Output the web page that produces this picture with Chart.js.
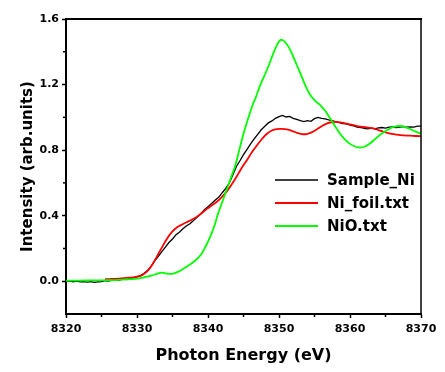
<!DOCTYPE html>
<html><head><meta charset="utf-8">
<script src="https://cdn.jsdelivr.net/npm/chart.js@4.4.1/dist/chart.umd.min.js"></script>
<style>html,body{margin:0;padding:0;background:#fff}</style>
</head><body>
<canvas id="c" width="445" height="372"></canvas>
<script>
const seriesNames = ['Sample_Ni', 'Ni_foil.txt', 'NiO.txt'];
const seriesColors = ['#000000', '#ff0000', '#00ff00'];

const sampleEnergy = [8320,8320.5,8321,8321.5,8322,8322.5,8323,8323.5,8324,8324.5,8325,8325.5,8326,8326.5,8327,8327.5,8328,8328.5,8329,8329.5,8330,8330.5,8331,8331.5,8332,8332.5,8333,8333.5,8334,8334.5,8335,8335.5,8336,8336.5,8337,8337.5,8338,8338.5,8339,8339.5,8340,8340.5,8341,8341.5,8342,8342.5,8343,8343.5,8344,8344.5,8345,8345.5,8346,8346.5,8347,8347.5,8348,8348.5,8349,8349.5,8350,8350.5,8351,8351.5,8352,8352.5,8353,8353.5,8354,8354.5,8355,8355.5,8356,8356.5,8357,8357.5,8358,8358.5,8359,8359.5,8360,8360.5,8361,8361.5,8362,8362.5,8363,8363.5,8364,8364.5,8365,8365.5,8366,8366.5,8367,8367.5,8368,8368.5,8369,8369.5,8370];
const sampleIntensity = [0.000,0.002,-0.003,0.001,-0.004,-0.002,-0.006,-0.003,-0.007,-0.004,-0.002,0.004,0.001,0.008,0.012,0.006,0.014,0.010,0.016,0.022,0.026,0.034,0.048,0.066,0.092,0.124,0.152,0.180,0.208,0.236,0.258,0.284,0.300,0.322,0.338,0.352,0.372,0.392,0.412,0.436,0.455,0.474,0.494,0.512,0.540,0.566,0.600,0.648,0.700,0.735,0.772,0.805,0.838,0.868,0.896,0.924,0.946,0.966,0.978,0.994,1.004,1.012,1.002,1.006,0.994,0.988,0.980,0.974,0.980,0.976,0.992,1.000,0.994,0.990,0.984,0.980,0.972,0.968,0.962,0.960,0.952,0.948,0.940,0.938,0.932,0.930,0.934,0.930,0.936,0.938,0.934,0.940,0.942,0.938,0.940,0.944,0.940,0.942,0.940,0.946,0.946];

const foilEnergy = [8325.5,8326.5,8327.5,8328.5,8329.5,8330.5,8331,8331.6,8332.2,8332.8,8333.5,8334.2,8334.9,8335.6,8336.3,8337,8337.7,8338.4,8339.1,8339.8,8340.5,8341.2,8341.9,8342.6,8343.3,8344,8344.7,8345.5,8346.2,8346.9,8347.6,8348.3,8349,8349.7,8350.4,8351.1,8351.8,8352.5,8353.2,8353.9,8354.6,8355.3,8356,8356.7,8357.4,8358.1,8358.8,8359.5,8360.2,8361,8361.8,8362.6,8363.3,8364,8364.7,8365.4,8366.1,8366.8,8367.5,8368.5,8369.5,8370];
const foilIntensity = [0.012,0.014,0.016,0.020,0.024,0.032,0.045,0.068,0.105,0.150,0.205,0.258,0.300,0.328,0.345,0.360,0.375,0.392,0.415,0.440,0.462,0.483,0.512,0.545,0.588,0.636,0.688,0.740,0.788,0.830,0.868,0.900,0.920,0.928,0.929,0.926,0.918,0.906,0.898,0.898,0.908,0.926,0.946,0.962,0.970,0.972,0.968,0.962,0.955,0.947,0.942,0.937,0.932,0.922,0.912,0.904,0.898,0.893,0.890,0.888,0.886,0.886];

const nioEnergy = [8320,8322,8324,8326,8328,8330,8331,8332,8333,8333.5,8334.2,8335,8335.8,8336.5,8337.2,8337.9,8338.5,8339.1,8339.7,8340.3,8340.9,8341.4,8342,8342.6,8343.2,8343.8,8344.4,8345,8345.6,8346.2,8346.8,8347.3,8347.9,8348.5,8349.1,8349.7,8350.1,8350.5,8351,8351.6,8352.3,8353,8353.7,8354.4,8355.1,8355.8,8356.5,8357.2,8357.9,8358.6,8359.3,8360,8360.7,8361.4,8362.1,8362.8,8363.5,8364.2,8364.9,8365.6,8366.3,8367,8367.7,8368.5,8369.2,8370];
const nioIntensity = [0.004,0.004,0.005,0.006,0.010,0.016,0.024,0.034,0.048,0.052,0.046,0.045,0.058,0.076,0.095,0.116,0.138,0.168,0.215,0.270,0.338,0.410,0.482,0.555,0.628,0.700,0.800,0.900,0.985,1.065,1.130,1.190,1.250,1.310,1.380,1.440,1.468,1.472,1.452,1.410,1.340,1.270,1.195,1.136,1.100,1.075,1.040,0.994,0.946,0.900,0.864,0.838,0.822,0.816,0.822,0.840,0.866,0.892,0.914,0.932,0.943,0.947,0.942,0.928,0.914,0.900];

const xTicks = [8320, 8330, 8340, 8350, 8360, 8370];
const yTicks = [0.0, 0.4, 0.8, 1.2, 1.6];
const xMinorTicks = [8325, 8335, 8345, 8355, 8365];
const yMinorTicks = [0.2, 0.6, 1.0, 1.4];

const toPts = (xs, ys) => xs.map((v, i) => ({x: v, y: ys[i]}));

Chart.defaults.font.family = '"DejaVu Sans", sans-serif';
Chart.defaults.font.weight = 'bold';
Chart.defaults.color = '#000';

const extras = {
  id: 'extras',
  afterDatasetsDraw(chart) {
    const {ctx, chartArea: a} = chart;
    ctx.save();
    ctx.beginPath();
    ctx.rect(a.left, a.top, a.right - a.left, a.bottom - a.top);
    ctx.clip();
    const rows = [180, 203, 226];
    ctx.font = 'bold 15px "DejaVu Sans"';
    ctx.textBaseline = 'middle';
    ctx.textAlign = 'left';
    seriesNames.forEach((n, i) => {
      ctx.strokeStyle = seriesColors[i];
      ctx.lineWidth = i === 0 ? 1.5 : 2;
      ctx.beginPath();
      ctx.moveTo(275, rows[i]);
      ctx.lineTo(318, rows[i]);
      ctx.stroke();
      ctx.fillStyle = '#000';
      ctx.fillText(n, 327, rows[i] + 1);
    });
    ctx.restore();
  },
  afterDraw(chart) {
    const {ctx, chartArea: a, scales: {x, y}} = chart;
    ctx.save();
    ctx.strokeStyle = '#000';
    ctx.lineWidth = 2;
    ctx.beginPath();
    ctx.moveTo(a.left - 1, a.top);
    ctx.lineTo(a.right + 1, a.top);
    ctx.stroke();
    ctx.lineWidth = 1.5;
    ctx.beginPath();
    ctx.moveTo(a.right, a.top);
    ctx.lineTo(a.right, a.bottom);
    ctx.stroke();
    ctx.lineWidth = 1.5;
    xMinorTicks.forEach(v => {
      const px = x.getPixelForValue(v);
      ctx.beginPath();
      ctx.moveTo(px, a.bottom);
      ctx.lineTo(px, a.bottom + 3);
      ctx.stroke();
    });
    yMinorTicks.forEach(v => {
      const py = y.getPixelForValue(v);
      ctx.beginPath();
      ctx.moveTo(a.left, py);
      ctx.lineTo(a.left - 3, py);
      ctx.stroke();
    });
    ctx.restore();
  }
};

new Chart(document.getElementById('c'), {
  type: 'line',
  data: {
    datasets: [
      {label: seriesNames[0], data: toPts(sampleEnergy, sampleIntensity), borderColor: seriesColors[0], borderWidth: 1.3, tension: 0, order: 3},
      {label: seriesNames[1], data: toPts(foilEnergy, foilIntensity), borderColor: seriesColors[1], borderWidth: 1.8, tension: 0.35, order: 2},
      {label: seriesNames[2], data: toPts(nioEnergy, nioIntensity), borderColor: seriesColors[2], borderWidth: 1.8, tension: 0.35, order: 1}
    ]
  },
  options: {
    responsive: false,
    animation: false,
    parsing: true,
    elements: {point: {radius: 0}},
    layout: {padding: {top: 19, right: 24, left: 0, bottom: 0}},
    plugins: {legend: {display: false}, tooltip: {enabled: false}},
    scales: {
      x: {
        type: 'linear', min: 8320, max: 8370,
        afterBuildTicks: s => { s.ticks = xTicks.map(v => ({value: v})); },
        afterFit: s => { s.height = 58; },
        ticks: {callback: v => String(v), font: {size: 11, weight: 'bold'}, color: '#000', padding: 5, maxRotation: 0, autoSkip: false},
        grid: {display: true, drawOnChartArea: false, drawTicks: true, tickLength: 4, tickWidth: 1.5, tickColor: '#000'},
        border: {display: true, color: '#000', width: 2},
        title: {display: true, text: 'Photon Energy (eV)', font: {size: 16, weight: 'bold'}, color: '#000', padding: {top: 0, bottom: 7}}
      },
      y: {
        type: 'linear', min: -0.2, max: 1.6,
        afterBuildTicks: s => { s.ticks = yTicks.map(v => ({value: v})); },
        afterFit: s => { s.width = 66; },
        ticks: {callback: v => Number(v).toFixed(1), font: {size: 11, weight: 'bold'}, color: '#000', padding: 3, autoSkip: false},
        grid: {display: true, drawOnChartArea: false, drawTicks: true, tickLength: 4, tickWidth: 1.5, tickColor: '#000'},
        border: {display: true, color: '#000', width: 2},
        title: {display: true, text: 'Intensity (arb.units)', font: {size: 15, weight: 'bold'}, color: '#000', padding: {top: 19, bottom: 0}}
      }
    }
  },
  plugins: [extras]
});
</script>
</body></html>
